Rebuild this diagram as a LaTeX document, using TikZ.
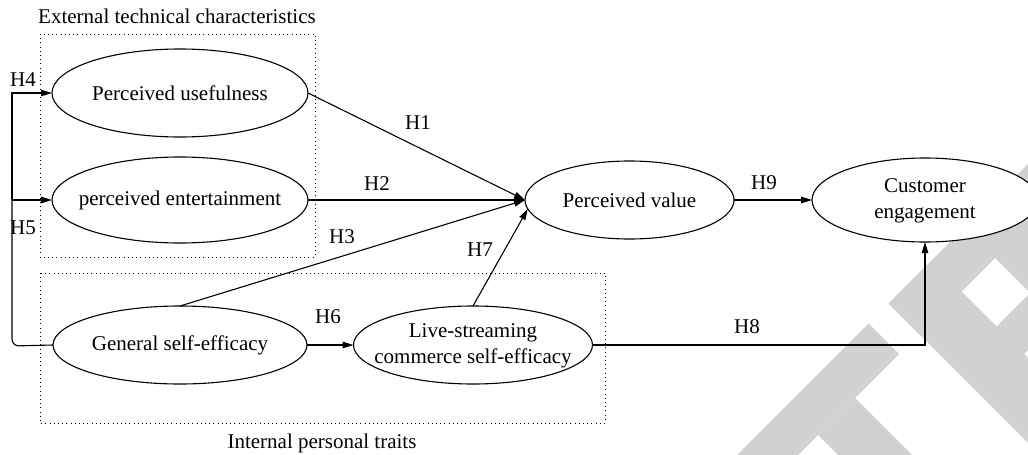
\documentclass[tikz,border=0pt]{standalone}
\usepackage{fontspec}
\setmainfont{Liberation Serif}
\usetikzlibrary{shapes.geometric,arrows.meta}
\begin{document}
\begin{tikzpicture}[x=1pt,y=-1pt,
  every node/.style={font=\fontsize{21}{26}\selectfont},
  ell/.style={ellipse,draw,line width=1.1pt,fill=white,inner sep=0pt,outer sep=0pt},
  conn/.style={line width=1.1pt},
  arr/.style={conn,-{Triangle[length=11pt,width=6.5pt]}},
  dotbox/.style={line width=1pt,dash pattern=on 1pt off 3.2pt},
  wm/.style={fill=black!18,draw=none}]
\useasboundingbox (0,0) rectangle (1028,455);
% watermark
\begin{scope}
\clip (0,0) rectangle (1028,455);
\fill[wm] (868.5,323.5) -- (899,354) -- (726.5,526.5) -- (696,496) -- cycle;
\fill[wm] (855,398) -- (978.5,521.5) -- (941.5,558.5) -- (818,435) -- cycle;
\fill[wm] (888.5,303.5) -- (919,334) -- (1076.5,176.5) -- (1046,146) -- cycle;
\fill[wm] (888.5,303.5) -- (931,261) -- (1135,465) -- (1092.5,507.5) -- cycle;
\fill[wm] (964.5,227.5) -- (1002,190) -- (1156,344) -- (1118.5,381.5) -- cycle;
\fill[wm] (991.5,331.5) -- (1019,359) -- (1139,239) -- (1111.5,211.5) -- cycle;
\end{scope}
% group boxes
\draw[dotbox] (40,34) rectangle (315,257);
\draw[dotbox] (40,273) rectangle (605,423);
\node (t1) at (177,16) {External technical characteristics};
\node (t2) at (322,443) {Internal personal traits};
% constructs
\node[ell,minimum width=256pt,minimum height=88pt] (pu) at (180,93) {\makebox[0pt]{Perceived usefulness}};
\node[ell,minimum width=256pt,minimum height=86pt] (pe) at (180,200) {\makebox[0pt]{perceived entertainment}};
\node[ell,minimum width=254pt,minimum height=78pt] (gse) at (180,345) {\makebox[0pt]{General self-efficacy}};
\node[ell,minimum width=239pt,minimum height=78pt] (lsc) at (473,345) {\makebox[0pt]{\begin{tabular}{@{}c@{}}Live-streaming\\commerce self-efficacy\end{tabular}}};
\node[ell,minimum width=209pt,minimum height=78pt] (pv) at (629.5,200) {\makebox[0pt]{Perceived value}};
\node[ell,minimum width=226pt,minimum height=84pt] (ce) at (925,200) {\makebox[0pt]{\begin{tabular}{@{}c@{}}Customer\\engagement\end{tabular}}};
% left feedback connector
\coordinate (lc) at (12,346);
\coordinate (j) at (12,200);
\draw[conn,rounded corners=7pt] (gse.west) -- (lc) -- (j);
\draw[arr] (j) |- (pu.west);
\draw[arr] (j) -- (pe.west);
% paths
\draw[arr] (pu.east) -- (pv.west);
\draw[arr] (pe.east) -- (pv.west);
\draw[arr] (gse.north) -- (pv.west);
\draw[arr] (lsc.north) -- (pv.185);
\draw[arr] (gse.east) -- (lsc.west);
\draw[arr] (pv.east) -- (ce.west);
\draw[arr] (lsc.east) -| (ce.south);
% labels
\node (h1) at (418,123) {H1};
\node (h2) at (377,184) {H2};
\node (h3) at (342,237) {H3};
\node (h4) at (23,80) {H4};
\node (h5) at (23,228) {H5};
\node (h6) at (328,317) {H6};
\node (h7) at (480,250) {H7};
\node (h8) at (747,327) {H8};
\node (h9) at (764,183) {H9};
\end{tikzpicture}
\end{document}
